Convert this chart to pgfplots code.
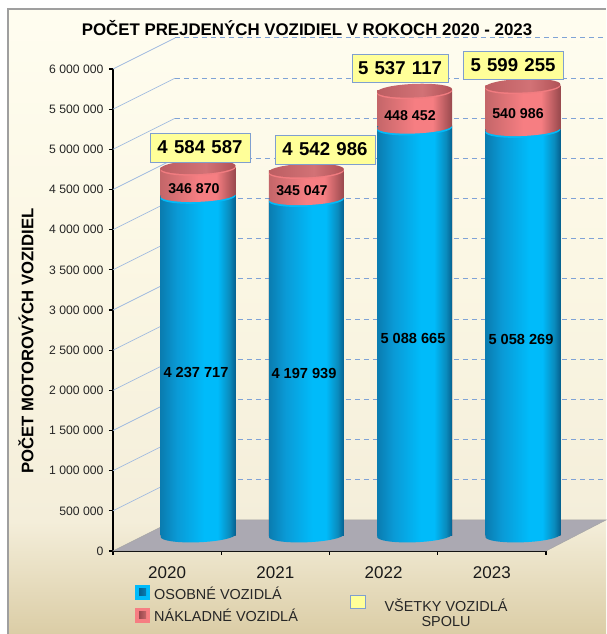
\documentclass[border=0pt]{standalone}
\usepackage{pgfplots}
\pgfplotsset{compat=1.18}
\usepackage{fontspec}
\setmainfont{Liberation Sans}
\definecolor{bg0}{HTML}{DBCDA6}
\definecolor{bg1}{HTML}{F4EEDA}
\definecolor{bg2}{HTML}{FBF7E4}
\definecolor{bg3}{HTML}{FFFDF0}
\definecolor{bl0}{HTML}{0A7CB0}
\definecolor{bl0b}{HTML}{0A9AD6}
\definecolor{bl1}{HTML}{00BBFA}
\definecolor{bl1b}{HTML}{0A8ABC}
\definecolor{bl2}{HTML}{05608F}
\definecolor{rd0}{HTML}{C46669}
\definecolor{rd1}{HTML}{F67E82}
\definecolor{rd2}{HTML}{98494D}
\definecolor{tp0}{HTML}{BC5E62}
\definecolor{tp1}{HTML}{D27276}
\definecolor{tp2}{HTML}{B05256}
\definecolor{gridc}{HTML}{7FA3D6}
\definecolor{boxb}{HTML}{7F9FD0}
\definecolor{boxf}{HTML}{FFFF99}
\definecolor{floorc}{HTML}{ABA9B2}
\pgfdeclareverticalshading{bgsh}{100bp}{color(0bp)=(bg0);color(25bp)=(bg0);color(34bp)=(bg1);color(55bp)=(bg2);color(75bp)=(bg3);color(100bp)=(bg3)}
\pgfdeclarehorizontalshading{cylblue}{100bp}{color(0bp)=(bl0);color(25bp)=(bl0);color(36bp)=(bl0b);color(54bp)=(bl1);color(63bp)=(bl1);color(71bp)=(bl1b);color(75bp)=(bl2);color(100bp)=(bl2)}
\pgfdeclarehorizontalshading{cylred}{100bp}{color(0bp)=(rd0);color(25bp)=(rd0);color(50bp)=(rd1);color(62bp)=(rd1);color(75bp)=(rd2);color(100bp)=(rd2)}
\pgfdeclarehorizontalshading{captop}{100bp}{color(0bp)=(tp0);color(25bp)=(tp0);color(55bp)=(tp1);color(75bp)=(tp2);color(100bp)=(tp2)}
% caps of the cylinders, centred on the data point plus the 3D depth shift
\newcommand{\capshape}[1]{\pgfpathellipse{\pgfqpoint{31pt}{\dimexpr15.5pt+#1\relax}}{\pgfqpoint{37.5pt}{1.4pt}}{\pgfqpoint{0pt}{6.8pt}}}
\pgfdeclareplotmark{capblue}{\capshape{0pt}\pgfshadepath{cylblue}{0}\pgfusepath{discard}}
\pgfdeclareplotmark{caprim}{\pgfsetfillcolor{bl1}\capshape{-1.8pt}\pgfusepathqfill}
\pgfdeclareplotmark{capred}{\capshape{0pt}\pgfshadepath{cylred}{0}\pgfusepath{discard}}
\pgfdeclareplotmark{captoprim}{\pgfsetfillcolor{rd1!85!tp1}\capshape{-1.5pt}\pgfusepathqfill}
\pgfdeclareplotmark{captop}{\capshape{0pt}\pgfshadepath{captop}{0}\pgfusepath{discard}}
\newcommand{\gl}[2]{%
  \addplot[gridc!75!white,line width=0.7pt,forget plot] coordinates {(0,#1) (0.5727,#2)};
  \addplot[gridc,line width=1pt,dash pattern=on 5pt off 4pt,forget plot] coordinates {(0.5727,#2) (4.554,#2)};
}
% one cylinder: position, passenger cars, all vehicles
\newcommand{\cyl}[3]{%
  \addplot[only marks,mark=capblue,forget plot] coordinates {(#1,0)};
  \addplot[ybar,bar width=75pt,bar shift=31pt,yshift=15.5pt,shade,shading=cylred,draw=none,forget plot] coordinates {(#1,#3)};
  \addplot[ybar,bar width=75pt,bar shift=31pt,yshift=15.5pt,shade,shading=cylblue,draw=none,forget plot] coordinates {(#1,#2)};
  \addplot[only marks,mark=caprim,forget plot] coordinates {(#1,#2)};
  \addplot[only marks,mark=capred,forget plot] coordinates {(#1,#2)};
  \addplot[only marks,mark=captoprim,forget plot] coordinates {(#1,#3)};
  \addplot[only marks,mark=captop,forget plot] coordinates {(#1,#3)};
}
\newcommand{\lbl}[4]{\node[font=\bfseries\fontsize{#1}{#1}\selectfont,text=black,inner sep=0pt] at (#2,634-#3) {#4};}
\newcommand{\tot}[4]{\draw[boxb,line width=0.9pt,fill=boxf] (#1,634-#3) rectangle (#2,634-#4);}
\newcommand{\gap}{\hspace{6.3pt}}
\begin{document}
\begin{tikzpicture}[x=1pt,y=1pt]
\path[use as bounding box] (0,0) rectangle (606,634);
\fill[white] (0,0) rectangle (606,634);
\shade[shading=bgsh] (8,0) rectangle (606,625);
\draw[gray!75,line width=1.6pt] (8,0) -- (8,625) -- (606,625);
\begin{axis}[
  at={(113pt,83pt)},anchor=south west,
  scale only axis,width=433pt,height=482pt,
  xmin=0,xmax=4,ymin=0,ymax=6000000,
  clip=false,
  axis lines=left,
  axis line style={-,black,line width=1.6pt},
  tick align=outside,
  major tick length=4pt,
  tick style={black,line width=1.3pt},
  xtick={0,1,2,3,4},
  x tick label as interval,
  xticklabels={2020,2021,2022,2023},
  xticklabel style={font=\fontsize{17}{18}\selectfont,text=black!90,yshift=-8pt},
  scaled y ticks=false,
  ytick={0,500000,1000000,1500000,2000000,2500000,3000000,3500000,4000000,4500000,5000000,5500000,6000000},
  yticklabels={0,500 000,1 000 000,1 500 000,2 000 000,2 500 000,3 000 000,3 500 000,4 000 000,4 500 000,5 000 000,5 500 000,6 000 000},
  yticklabel style={font=\fontsize{12.2}{14}\selectfont,text=black!85,xshift=-2pt},
]
% floor and back-wall grid
\addplot[draw=gray!70,line width=0.5pt,fill=floorc,forget plot] coordinates {(0,0) (0.5727,385892) (4.554,385892) (4,0)} -- cycle;
\gl{500000}{885892}
\gl{1000000}{1385892}
\gl{1500000}{1885892}
\gl{2000000}{2385892}
\gl{2500000}{2885892}
\gl{3000000}{3385892}
\gl{3500000}{3885892}
\gl{4000000}{4385892}
\gl{4500000}{4885892}
\gl{5000000}{5385892}
\gl{5500000}{5885892}
\gl{6000000}{6385892}
% cylinders
\cyl{0.5}{4237717}{4584587}
\cyl{1.5}{4197939}{4542986}
\cyl{2.5}{5088665}{5537117}
\cyl{3.5}{5058269}{5599255}
\end{axis}
% total boxes
\tot{150}{250}{133}{162}
\tot{275}{375}{135}{164}
\tot{352}{448}{54}{82}
\tot{463}{563}{51}{79}
\lbl{18.6}{200}{147.5}{4\gap 584\gap 587}
\lbl{18.6}{325}{149.5}{4\gap 542\gap 986}
\lbl{18.6}{400}{68.5}{5\gap 537\gap 117}
\lbl{18.6}{513}{65.5}{5\gap 599\gap 255}
% truck labels
\lbl{14.2}{194}{189}{346 870}
\lbl{14.2}{302}{191}{345 047}
\lbl{14.2}{410}{116}{448 452}
\lbl{14.2}{518}{114}{540 986}
% car labels
\lbl{14.6}{196}{372}{4 237 717}
\lbl{14.6}{304}{373}{4 197 939}
\lbl{14.6}{413}{338}{5 088 665}
\lbl{14.6}{521}{339}{5 058 269}
% titles
\lbl{16.85}{307}{28.5}{POČET PREJDENÝCH VOZIDIEL V ROKOCH 2020 - 2023}
\node[rotate=90,font=\bfseries\fontsize{16.7}{17}\selectfont,inner sep=0pt] at (26,634-341) {POČET MOTOROVÝCH VOZIDIEL};
% legend
\fill[bl1] (135,634-600) rectangle (150,634-585);
\shade[left color=bl2,right color=bl0] (139,634-596) rectangle (146,634-589);
\fill[rd1] (135,634-623) rectangle (150,634-608);
\shade[left color=rd2,right color=rd0] (139,634-619) rectangle (146,634-612);
\draw[boxb,line width=1pt,fill=boxf] (350,634-609) rectangle (365,634-596);
\node[font=\fontsize{14.45}{15}\selectfont,anchor=west,inner sep=0pt,text=black!85] at (154,634-593) {OSOBNÉ VOZIDLÁ};
\node[font=\fontsize{14.45}{15}\selectfont,anchor=west,inner sep=0pt,text=black!85] at (154,634-615) {NÁKLADNÉ VOZIDLÁ};
\node[font=\fontsize{14.45}{15}\selectfont,inner sep=0pt,text=black!85] at (446,634-605) {VŠETKY VOZIDLÁ};
\node[font=\fontsize{14.45}{15}\selectfont,inner sep=0pt,text=black!85] at (446,634-622) {SPOLU};
\end{tikzpicture}
\end{document}
